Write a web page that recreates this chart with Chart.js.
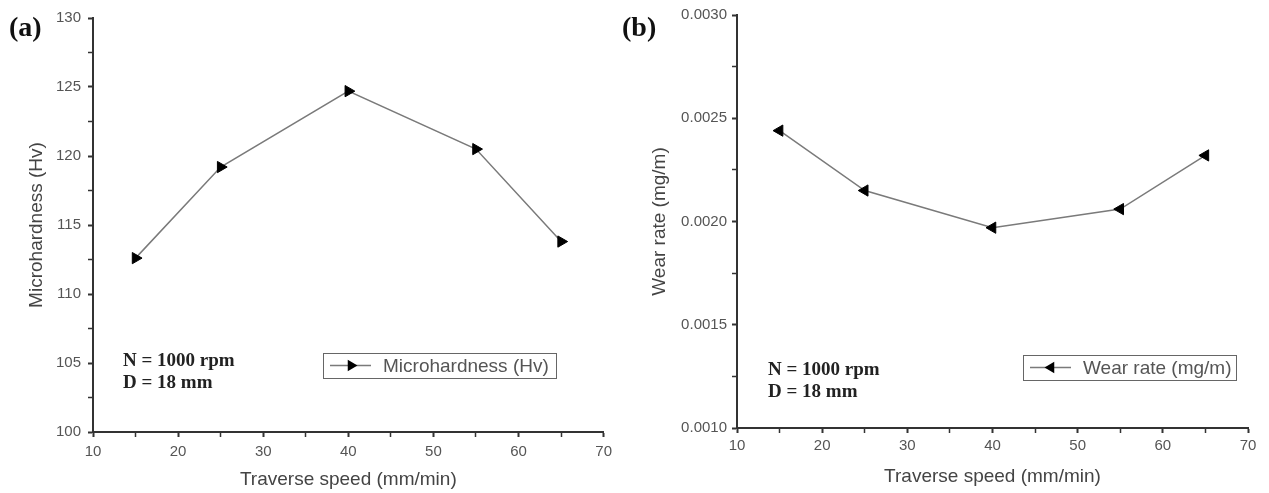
<!DOCTYPE html>
<html>
<head>
<meta charset="utf-8">
<script src="https://cdn.jsdelivr.net/npm/chart.js@4.4.1/dist/chart.umd.min.js"></script>
<style>
  body { margin: 0; background: #fff; }
  #wrapA { position: absolute; left: 0; top: 0; width: 618px; height: 493px; }
  #wrapB { position: absolute; left: 615px; top: 0; width: 654px; height: 493px; }
</style>
</head>
<body>
<div id="wrapA"><canvas id="chartA" width="618" height="493"></canvas></div>
<div id="wrapB"><canvas id="chartB" width="654" height="493"></canvas></div>
<script>
// traverse speeds (mm/min) - same for both panels
var speeds = [15, 25, 40, 55, 65];
// panel (a) microhardness
var hardness = [112.6, 119.2, 124.7, 120.5, 113.8];
// panel (b) wear rate
var wearRate = [0.00244, 0.00215, 0.00197, 0.00206, 0.00232];

var lineGray = "#7a7a7a";
var axisColor = "#333";
var tickText = "#555";
var titleText = "#444";

function makePoints(xs, ys) {
    var pts = [];
    for (var i = 0; i < xs.length; i++) {
        pts.push({ x: xs[i], y: ys[i] });
    }
    return pts;
}

// little triangle like the origin markers
function drawTri(ctx, x, y, r, dir) {
    ctx.beginPath();
    ctx.moveTo(x + dir * r, y);
    ctx.lineTo(x - dir * r * 0.5, y - r * 0.87);
    ctx.lineTo(x - dir * r * 0.5, y + r * 0.87);
    ctx.closePath();
    ctx.fill();
}

// draws panel letter, the N/D note and the boxed legend
var extrasPlugin = {
    id: 'extras',
    afterDraw: function(chart) {
        var o = chart.options.plugins.extras;
        var ctx = chart.ctx;
        ctx.save();
        ctx.fillStyle = "#111";
        ctx.font = "bold 28px 'Liberation Serif', 'Times New Roman', serif";
        ctx.textBaseline = "middle";
        ctx.textAlign = "left";
        ctx.fillText(o.letter, o.letterX, o.letterY);

        ctx.font = "bold 19px 'Liberation Serif', 'Times New Roman', serif";
        ctx.fillStyle = "#222";
        ctx.fillText("N = 1000 rpm", o.noteX, o.noteY);
        ctx.fillText("D = 18 mm", o.noteX, o.noteY + 22);

        // legend box
        var b = o.box;
        ctx.strokeStyle = "#666";
        ctx.lineWidth = 1;
        ctx.strokeRect(b.x + 0.5, b.y + 0.5, b.w, b.h);
        var cy = b.y + b.h / 2;
        ctx.strokeStyle = lineGray;
        ctx.lineWidth = 1.5;
        ctx.beginPath();
        ctx.moveTo(b.x + 7, cy);
        ctx.lineTo(b.x + 48, cy);
        ctx.stroke();
        ctx.fillStyle = "#000";
        drawTri(ctx, b.x + 28, cy, 6.5, o.dir);
        ctx.fillStyle = "#555";
        ctx.font = "19px 'Liberation Sans', Arial, sans-serif";
        ctx.fillText(chart.data.datasets[0].label, b.x + 60, cy + 1);
        ctx.restore();
    }
};

function axisCommon() {
    return {
        border: { display: true, color: axisColor, width: 2 },
        grid: {
            drawOnChartArea: false,
            drawTicks: true,
            tickLength: 5,
            tickColor: axisColor,
            tickWidth: function(c) { return c.tick && c.tick.label === '' ? 1.5 : 2; }
        }
    };
}

function buildChart(canvasId, label, yData, cfg) {
    var xAx = axisCommon();
    xAx.type = 'linear';
    xAx.min = 10;
    xAx.max = 70;
    xAx.ticks = {
        stepSize: 5,
        autoSkip: false,
        maxRotation: 0,
        color: tickText,
        padding: cfg.xTickPad,
        font: { size: 15, family: "'Liberation Sans', Arial, sans-serif" },
        callback: function(v) { return v % 10 === 0 ? String(v) : ''; }
    };
    xAx.title = {
        display: true,
        text: 'Traverse speed (mm/min)',
        color: titleText,
        font: { size: 19, family: "'Liberation Sans', Arial, sans-serif" },
        padding: { top: 0, bottom: cfg.xTitlePad }
    };
    xAx.afterFit = function(s) { s.height = cfg.xAxisH; };

    var yAx = axisCommon();
    yAx.min = cfg.yMin;
    yAx.max = cfg.yMax;
    yAx.ticks = {
        stepSize: cfg.yStep,
        autoSkip: false,
        color: tickText,
        padding: cfg.yTickPad,
        font: { size: 15, family: "'Liberation Sans', Arial, sans-serif" },
        callback: cfg.yFmt
    };
    yAx.title = {
        display: true,
        text: cfg.yTitle,
        color: titleText,
        font: { size: 19, family: "'Liberation Sans', Arial, sans-serif" },
        padding: { top: cfg.yTitlePad, bottom: 0 }
    };
    yAx.afterFit = function(s) { s.width = cfg.yAxisW; };

    return new Chart(document.getElementById(canvasId).getContext('2d'), {
        type: 'line',
        data: {
            datasets: [{
                label: label,
                data: makePoints(speeds, yData),
                borderColor: lineGray,
                borderWidth: 1.5,
                pointStyle: 'triangle',
                rotation: cfg.rot,
                pointRadius: 6.5,
                pointBackgroundColor: '#000',
                pointBorderColor: '#000',
                pointBorderWidth: 1,
                fill: false,
                tension: 0
            }]
        },
        options: {
            responsive: false,
            animation: false,
            layout: { padding: { left: 0, right: cfg.padR, top: cfg.padT, bottom: 0 } },
            scales: { x: xAx, y: yAx },
            plugins: {
                legend: { display: false },
                tooltip: { enabled: false },
                extras: cfg.extras
            }
        },
        plugins: [extrasPlugin]
    });
}

buildChart('chartA', 'Microhardness (Hv)', hardness, {
    yMin: 100, yMax: 130, yStep: 2.5,
    yFmt: function(v) { return v % 5 === 0 ? String(v) : ''; },
    yTitle: 'Microhardness (Hv)',
    rot: 90,
    yAxisW: 93, xAxisH: 61, padR: 12, padT: 18,
    xTickPad: 6, yTickPad: 7, xTitlePad: 2, yTitlePad: 25,
    extras: {
        letter: '(a)', letterX: 9, letterY: 29, dir: 1,
        noteX: 123, noteY: 361,
        box: { x: 323, y: 353, w: 233, h: 25 }
    }
});

buildChart('chartB', 'Wear rate (mg/m)', wearRate, {
    yMin: 0.001, yMax: 0.003, yStep: 0.00025,
    yFmt: function(v) { return Math.round(v * 100000) % 50 === 0 ? v.toFixed(4) : ''; },
    yTitle: 'Wear rate (mg/m)',
    rot: -90,
    yAxisW: 122, xAxisH: 65, padR: 21, padT: 15,
    xTickPad: 4, yTickPad: 5, xTitlePad: 5, yTitlePad: 33,
    extras: {
        letter: '(b)', letterX: 7, letterY: 29, dir: -1,
        noteX: 153, noteY: 370,
        box: { x: 408, y: 355, w: 213, h: 25 }
    }
});
</script>
</body>
</html>
